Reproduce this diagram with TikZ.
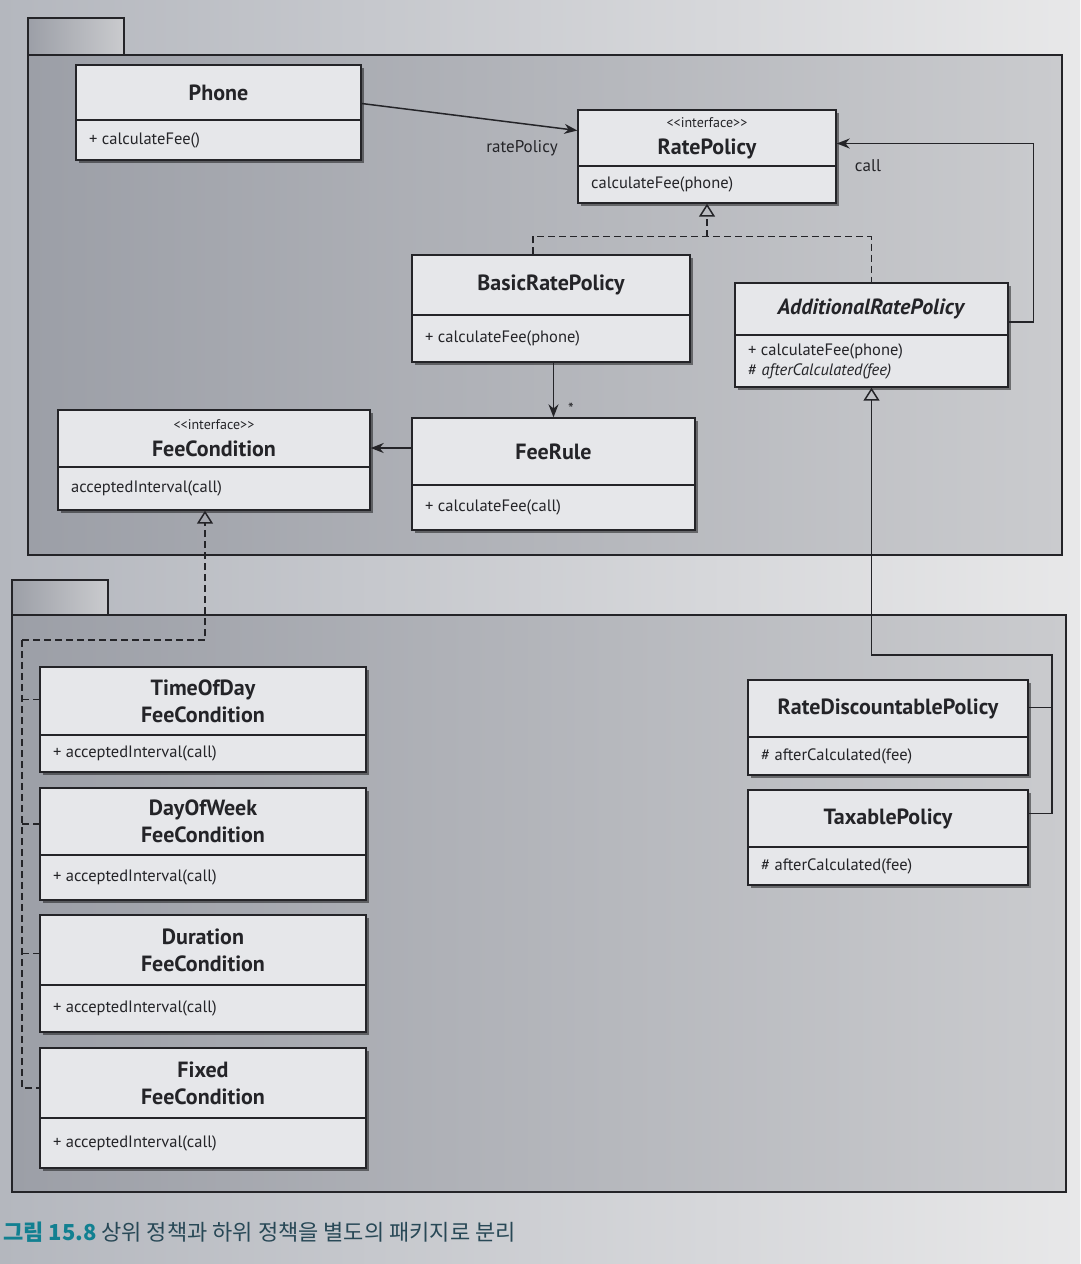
\documentclass[tikz,border=0pt]{standalone}
\usepackage{fontspec}
\setmainfont{PT Sans}
\newfontfamily\plainfont{PT Sans}
\newfontfamily\krfont{Noto Sans CJK KR}
\usetikzlibrary{arrows.meta,shadows,calc}

\definecolor{pagelight}{RGB}{232,232,233}
\definecolor{pagedark}{RGB}{180,183,190}
\definecolor{pkgdark}{RGB}{156,159,167}
\definecolor{pkglight}{RGB}{202,203,206}
\definecolor{boxfill}{RGB}{230,231,234}
\definecolor{ink}{RGB}{36,36,40}
\definecolor{capteal}{RGB}{18,128,145}
\definecolor{capink}{RGB}{40,72,86}

\tikzset{
  classbox/.style={draw=ink, line width=1.4pt, fill=boxfill, inner sep=0pt,
    drop shadow={shadow xshift=2.5pt, shadow yshift=-3pt, opacity=0.45, fill=black}},
  divider/.style={draw=ink, line width=1.3pt},
  titletext/.style={font=\fontsize{22}{27}\selectfont\bfseries, align=center, text=ink, inner sep=0pt},
  membertext/.style={font=\fontsize{16.5}{20}\selectfont, align=left, text=ink, inner sep=0pt, anchor=west},
  conn/.style={draw=ink, line width=1.5pt},
  assoc/.style={conn, -{Stealth[length=13pt,width=10pt]}},
  dashline/.style={conn, dash pattern=on 7pt off 4pt},
  realize/.style={dashline, -{Triangle[open, length=13pt, width=16pt, line width=1.5pt]}},
  general/.style={conn, -{Triangle[open, length=13pt, width=16pt, line width=1.5pt]}},
  pkg/.style={draw=ink, line width=1.5pt, left color=pkgdark, right color=pkglight},
  lbl/.style={font=\fontsize{17}{20}\selectfont, text=ink, inner sep=0pt},
}

% class box: name, left, top, right, bottom, divider y, title, members
\newcommand\umlclass[8]{%
  \node[classbox, minimum width={(#4)-(#2)}, minimum height={(#5)-(#3)}]
    (#1) at ({((#2)+(#4))/2},{((#3)+(#5))/2}) {};
  \draw[divider] ({#2},{#6}) -- ({#4},{#6});
  \node[titletext] (#1-t) at ({((#2)+(#4))/2},{((#3)+(#6))/2}) {#7};
  \node[membertext] (#1-m) at ({(#2)+13},{((#6)+(#5))/2}) {#8};
}
\newcommand\stereo{{\plainfont\mdseries\fontsize{14}{16}\selectfont <<interface>>}\\[0pt]}

\begin{document}
\begin{tikzpicture}[x=1pt,y=-1pt]
\useasboundingbox (0,0) rectangle (1080,1264);
\shade[left color=pagedark, right color=pagelight] (0,0) rectangle (1080,1264);

% upper package
\path[pkg] (28,18) rectangle (124,55);
\path[pkg] (28,55) rectangle (1062,555);
% lower package
\path[pkg] (12,580) rectangle (108,615);
\path[pkg] (12,615) rectangle (1066,1192);

% classes of the upper package
\umlclass{Phone}{76}{65}{361}{160}{120}{Phone}{+ calculateFee()}
\umlclass{RatePolicy}{578}{110}{836}{203}{166}{\stereo RatePolicy}{calculateFee(phone)}
\umlclass{BasicRatePolicy}{412}{255}{690}{362}{315}{BasicRatePolicy}{+ calculateFee(phone)}
\umlclass{AdditionalRatePolicy}{735}{283}{1008}{387}{335}{\textit{AdditionalRatePolicy}}{+ calculateFee(phone)\\\# \textit{afterCalculated(fee)}}
\umlclass{FeeCondition}{58}{410}{370}{510}{467}{\stereo FeeCondition}{acceptedInterval(call)}
\umlclass{FeeRule}{412}{418}{695}{530}{485}{FeeRule}{+ calculateFee(call)}

% classes of the lower package
\umlclass{TimeOfDayFeeCondition}{40}{667}{366}{772}{735}{TimeOfDay\\FeeCondition}{+ acceptedInterval(call)}
\umlclass{DayOfWeekFeeCondition}{40}{788}{366}{900}{855}{DayOfWeek\\FeeCondition}{+ acceptedInterval(call)}
\umlclass{DurationFeeCondition}{40}{915}{366}{1032}{985}{Duration\\FeeCondition}{+ acceptedInterval(call)}
\umlclass{FixedFeeCondition}{40}{1048}{366}{1168}{1118}{Fixed\\FeeCondition}{+ acceptedInterval(call)}
\umlclass{RateDiscountablePolicy}{748}{680}{1028}{775}{737}{RateDiscountablePolicy}{\# afterCalculated(fee)}
\umlclass{TaxablePolicy}{748}{790}{1028}{885}{847}{TaxablePolicy}{\# afterCalculated(fee)}

% Phone -> RatePolicy
\draw[assoc] ([yshift=9pt]Phone.east) -- ([yshift=26pt]RatePolicy.west);
\node[lbl] (ratePolicyLbl) at (522,148) {ratePolicy};

% realizations of RatePolicy
\coordinate (rpjoin) at ($(RatePolicy.south)+(0,33)$);
\draw[dashline] ([xshift=-18pt]BasicRatePolicy.north) |- (rpjoin) -| (AdditionalRatePolicy.north);
\draw[realize] (rpjoin) -- (RatePolicy.south);

% AdditionalRatePolicy -> RatePolicy (call)
\draw[assoc] ([yshift=13pt]AdditionalRatePolicy.east) -- ++(25,0) |- ([yshift=13pt]RatePolicy.east);
\node[lbl] (callLbl) at (868,166) {call};

% BasicRatePolicy -> FeeRule
\draw[assoc] (BasicRatePolicy.south -| FeeRule.north) -- (FeeRule.north);
\node[lbl, font=\fontsize{16}{18}\selectfont] (manyLbl) at (571,409) {*};

% FeeRule -> FeeCondition
\coordinate (fcin) at ([yshift=12pt]FeeCondition.east);
\draw[assoc] (FeeRule.west |- fcin) -- (fcin);

% realizations of FeeCondition
\coordinate (fcbus) at (22,640);
\draw[realize] (fcbus) -| ([xshift=-9pt]FeeCondition.south);
\coordinate (FixedFeeCondition-stub) at ([yshift=20pt]FixedFeeCondition.west);
\draw[dashline] (fcbus) |- (FixedFeeCondition-stub);
\foreach \c in {TimeOfDayFeeCondition,DayOfWeekFeeCondition,DurationFeeCondition}{
  \coordinate (\c-stub) at ([yshift=20pt]\c.west);
  \draw[dashline] (fcbus |- \c-stub) -- (\c-stub);
}

% generalizations of AdditionalRatePolicy
\coordinate (genturn) at (1052,655);
\draw[general] ([yshift=24pt]TaxablePolicy.east) -| (genturn) -| (AdditionalRatePolicy.south);
\coordinate (rdout) at ([yshift=20pt]RateDiscountablePolicy.east);
\draw[conn] (rdout) -- (rdout -| genturn);

% caption
\node[anchor=base west, inner sep=0pt, font=\krfont\fontsize{22}{26}\selectfont] (caption) at (3,1240)
  {\textcolor{capteal}{\bfseries 그림 15.8} \textcolor{capink}{상위 정책과 하위 정책을 별도의 패키지로 분리}};
\end{tikzpicture}
\end{document}
